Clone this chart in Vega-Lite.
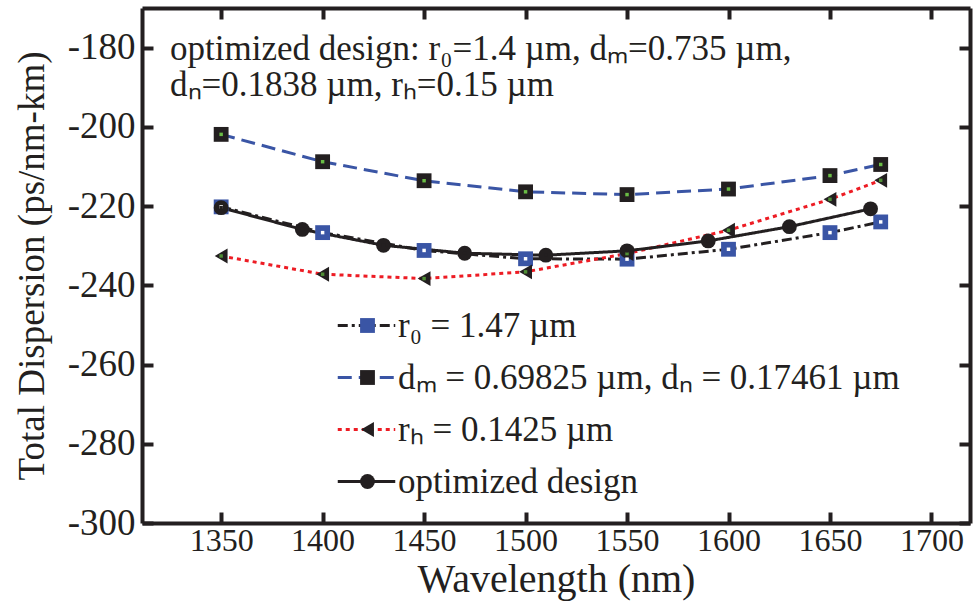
{
  "$schema": "https://vega.github.io/schema/vega-lite/v6.json",
  "width": 828,
  "height": 515,
  "autosize": "none",
  "padding": {"left": 142, "top": 8, "right": 4, "bottom": 78},
  "background": "white",
  "config": {
    "font": "Liberation Serif",
    "view": {"stroke": null},
    "axis": {
      "domainColor": "#231f20", "domainWidth": 4,
      "tickColor": "#231f20", "tickWidth": 4, "tickSize": -11,
      "labelFont": "Liberation Serif", "labelFontSize": 32, "labelColor": "#231f20",
      "titleFont": "Liberation Serif", "titleColor": "#231f20", "titleFontWeight": "normal",
      "grid": false
    }
  },
  "title": {
    "text": ["optimized design: r₀=1.4 µm, dₘ=0.735 µm,", "dₙ=0.1838 µm, rₕ=0.15 µm"],
    "anchor": "start", "frame": "group", "orient": "top",
    "offset": -125, "dx": 28, "baseline": "alphabetic",
    "font": "Liberation Serif", "fontSize": 35, "fontWeight": "normal",
    "color": "#231f20", "lineHeight": 36
  },
  "data": {
    "values": [
      {"wl": 1350, "D": -220.2, "curve": "r₀ = 1.47 µm", "marker": "r0"},
      {"wl": 1400, "D": -226.7, "curve": "r₀ = 1.47 µm", "marker": "r0"},
      {"wl": 1450, "D": -231.2, "curve": "r₀ = 1.47 µm", "marker": "r0"},
      {"wl": 1500, "D": -233.3, "curve": "r₀ = 1.47 µm", "marker": "r0"},
      {"wl": 1550, "D": -233.4, "curve": "r₀ = 1.47 µm", "marker": "r0"},
      {"wl": 1600, "D": -230.9, "curve": "r₀ = 1.47 µm", "marker": "r0"},
      {"wl": 1650, "D": -226.7, "curve": "r₀ = 1.47 µm", "marker": "r0"},
      {"wl": 1675, "D": -224.0, "curve": "r₀ = 1.47 µm", "marker": "r0"},
      {"wl": 1350, "D": -201.9, "curve": "dₘ = 0.69825 µm, dₙ = 0.17461 µm", "marker": "dm"},
      {"wl": 1400, "D": -208.8, "curve": "dₘ = 0.69825 µm, dₙ = 0.17461 µm", "marker": "dm"},
      {"wl": 1450, "D": -213.6, "curve": "dₘ = 0.69825 µm, dₙ = 0.17461 µm", "marker": "dm"},
      {"wl": 1500, "D": -216.4, "curve": "dₘ = 0.69825 µm, dₙ = 0.17461 µm", "marker": "dm"},
      {"wl": 1550, "D": -217.1, "curve": "dₘ = 0.69825 µm, dₙ = 0.17461 µm", "marker": "dm"},
      {"wl": 1600, "D": -215.7, "curve": "dₘ = 0.69825 µm, dₙ = 0.17461 µm", "marker": "dm"},
      {"wl": 1650, "D": -212.3, "curve": "dₘ = 0.69825 µm, dₙ = 0.17461 µm", "marker": "dm"},
      {"wl": 1675, "D": -209.5, "curve": "dₘ = 0.69825 µm, dₙ = 0.17461 µm", "marker": "dm"},
      {"wl": 1350, "D": -232.6, "curve": "rₕ = 0.1425 µm", "marker": "rh"},
      {"wl": 1400, "D": -237.2, "curve": "rₕ = 0.1425 µm", "marker": "rh"},
      {"wl": 1450, "D": -238.3, "curve": "rₕ = 0.1425 µm", "marker": "rh"},
      {"wl": 1500, "D": -236.6, "curve": "rₕ = 0.1425 µm", "marker": "rh"},
      {"wl": 1550, "D": -232.0, "curve": "rₕ = 0.1425 µm", "marker": "rh"},
      {"wl": 1600, "D": -226.1, "curve": "rₕ = 0.1425 µm", "marker": "rh"},
      {"wl": 1650, "D": -218.3, "curve": "rₕ = 0.1425 µm", "marker": "rh"},
      {"wl": 1675, "D": -213.5, "curve": "rₕ = 0.1425 µm", "marker": "rh"},
      {"wl": 1350, "D": -220.4, "curve": "optimized design", "marker": "opt"},
      {"wl": 1390, "D": -225.9, "curve": "optimized design", "marker": "opt"},
      {"wl": 1430, "D": -229.9, "curve": "optimized design", "marker": "opt"},
      {"wl": 1470, "D": -231.9, "curve": "optimized design", "marker": "opt"},
      {"wl": 1510, "D": -232.4, "curve": "optimized design", "marker": "opt"},
      {"wl": 1550, "D": -231.3, "curve": "optimized design", "marker": "opt"},
      {"wl": 1590, "D": -228.8, "curve": "optimized design", "marker": "opt"},
      {"wl": 1630, "D": -225.2, "curve": "optimized design", "marker": "opt"},
      {"wl": 1670, "D": -220.7, "curve": "optimized design", "marker": "opt"}
    ]
  },
  "layer": [
    {
      "mark": {"type": "line", "strokeWidth": 3, "strokeCap": "butt"},
      "encoding": {
        "x": {
          "field": "wl", "type": "quantitative",
          "scale": {"domain": [1311, 1719], "nice": false, "zero": false},
          "axis": {"orient": "bottom", "values": [1350, 1400, 1450, 1500, 1550, 1600, 1650, 1700], "format": "d",
                   "title": "Wavelength (nm)", "titleFontSize": 40, "labelPadding": 13, "titlePadding": 3}
        },
        "y": {
          "field": "D", "type": "quantitative",
          "scale": {"domain": [-300, -170], "nice": false, "zero": false},
          "axis": {"orient": "left", "values": [-300, -280, -260, -240, -220, -200, -180],
                   "labelExpr": "'-' + format(-datum.value, 'd')", "labelFontSize": 37,
                   "title": "Total Dispersion (ps/nm-km)", "titleFontSize": 37, "labelPadding": 18, "titlePadding": 16}
        },
        "stroke": {
          "field": "curve", "type": "nominal",
          "scale": {"domain": ["r₀ = 1.47 µm", "dₘ = 0.69825 µm, dₙ = 0.17461 µm", "rₕ = 0.1425 µm", "optimized design"],
                    "range": ["#231f20", "#3a55a5", "#ed1c24", "#231f20"]},
          "legend": {"title": null, "orient": "none", "legendX": 207, "legendY": 300, "padding": 0,
                     "symbolType": "M-2.5,0H2.5", "symbolSize": 529, "symbolStrokeWidth": 3,
                     "labelFont": "Liberation Serif", "labelFontSize": 35, "labelColor": "#231f20",
                     "labelOffset": 14, "rowPadding": 16, "labelLimit": 800}
        },
        "strokeDash": {
          "field": "curve", "type": "nominal",
          "scale": {"domain": ["r₀ = 1.47 µm", "dₘ = 0.69825 µm, dₙ = 0.17461 µm", "rₕ = 0.1425 µm", "optimized design"],
                    "range": [[10, 4, 3, 4], [14, 7], [4, 4], [1, 0]]},
          "legend": {"title": null, "orient": "none", "legendX": 207, "legendY": 300, "padding": 0,
                     "symbolType": "M-2.5,0H2.5", "symbolSize": 529, "symbolStrokeWidth": 3,
                     "labelFont": "Liberation Serif", "labelFontSize": 35, "labelColor": "#231f20",
                     "labelOffset": 14, "rowPadding": 16, "labelLimit": 800}
        }
      }
    },
    {
      "mark": {"type": "point", "filled": true, "opacity": 1, "size": 220},
      "encoding": {
        "x": {"field": "wl", "type": "quantitative",
              "axis": {"orient": "top", "values": [1350, 1400, 1450, 1500, 1550, 1600, 1650, 1700], "labels": false, "title": null}},
        "y": {"field": "D", "type": "quantitative",
              "axis": {"orient": "right", "values": [-300, -280, -260, -240, -220, -200, -180], "labels": false, "title": null}},
        "shape": {
          "field": "marker", "type": "nominal",
          "scale": {"domain": ["r0", "dm", "rh", "opt"], "range": ["square", "square", "triangle-left", "circle"]},
          "legend": {"title": null, "orient": "none", "legendX": 208, "legendY": 300, "padding": 0,
                     "symbolSize": 220, "symbolOpacity": 1, "labelExpr": "''",
                     "labelFont": "Liberation Serif", "labelFontSize": 35, "rowPadding": 16}
        },
        "color": {
          "field": "marker", "type": "nominal",
          "scale": {"domain": ["r0", "dm", "rh", "opt"], "range": ["#3a55a5", "#231f20", "#231f20", "#231f20"]},
          "legend": {"title": null, "orient": "none", "legendX": 208, "legendY": 300, "padding": 0,
                     "symbolSize": 220, "symbolOpacity": 1, "labelExpr": "''",
                     "labelFont": "Liberation Serif", "labelFontSize": 35, "rowPadding": 16}
        }
      }
    },
    {
      "mark": {"type": "point", "filled": true, "opacity": 1, "shape": "square", "size": 12, "strokeWidth": 0},
      "encoding": {
        "x": {"field": "wl", "type": "quantitative", "axis": null},
        "y": {"field": "D", "type": "quantitative", "axis": null},
        "fill": {
          "field": "marker", "type": "nominal",
          "scale": {"domain": ["r0", "dm", "rh", "opt"], "range": ["#ffffff", "#6abd45", "#4f8f35", "#231f20"]},
          "legend": null
        }
      }
    }
  ],
  "resolve": {"axis": {"x": "independent", "y": "independent"}}
}
